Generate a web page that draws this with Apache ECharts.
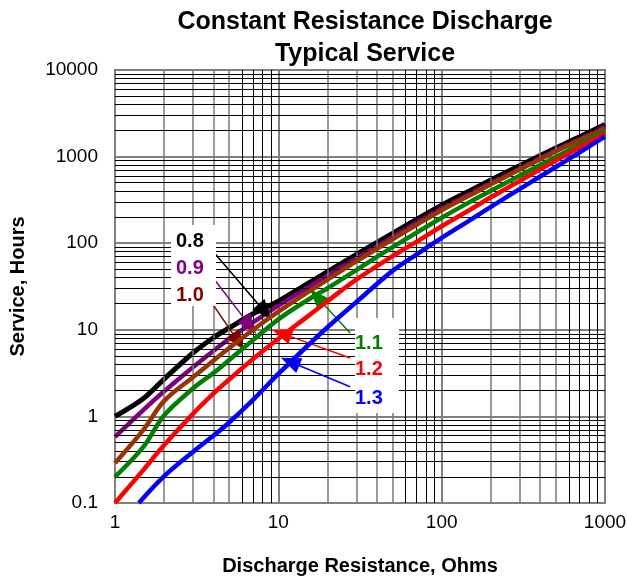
<!DOCTYPE html>
<html><head><meta charset="utf-8">
<script src="https://cdn.jsdelivr.net/npm/echarts@6/dist/echarts.min.js"></script>
<style>html,body{margin:0;padding:0;background:#fff}#c{width:627px;height:577px}</style>
</head><body><div id="c"></div>
<script>
// ---- data ----
const resistance = [1, 1.5, 2, 3, 4, 5, 7, 10, 15, 20, 30, 50, 70, 100, 150, 200, 300, 500, 700, 1000];
const service08 = [1.0, 1.62, 2.7, 5.4, 8.1, 10.5, 15.3, 21.4, 33.9, 46.8, 74, 130, 188, 275, 407, 537, 785, 1259, 1698, 2344];
const service09 = [0.58, 1.2, 1.95, 3.7, 5.7, 7.85, 12.2, 19, 30.5, 42.2, 66.8, 117.5, 172, 251, 376, 495, 724, 1180, 1592, 2228];
const service10 = [0.29, 0.71, 1.51, 2.84, 4.4, 6.15, 10, 16.2, 26.9, 38, 61.7, 111, 162, 240, 359, 479, 708, 1148, 1549, 2123];
const service11 = [0.20, 0.45, 1.03, 2.1, 3.16, 4.47, 7.6, 13.2, 21.9, 30.2, 49, 90, 132, 197, 302, 403, 603, 989, 1380, 1982];
const service12 = [0.10, 0.244, 0.467, 1.07, 1.83, 2.67, 4.6, 7.9, 14.1, 21.4, 38, 70.8, 103.5, 157, 245, 339, 522, 902, 1288, 1862];
const resistance13 = [1.4, 2, 3, 4, 5, 7, 10, 15, 20, 30, 50, 70, 100, 150, 200, 300, 500, 700, 1000];
const service13 = [0.10, 0.204, 0.389, 0.596, 0.851, 1.55, 3.09, 6.46, 10.7, 20.9, 47.9, 74, 115, 186, 263, 422, 759, 1122, 1698];
const seriesNames = ['0.8', '0.9', '1.0', '1.1', '1.2', '1.3'];
const xTickLabels = ['1', '10', '100', '1000'];
const yTickLabels = ['0.1', '1', '10', '100', '1000', '10000'];
// arrow annotations: [fromR, fromS, toR, toS]
const arrows = [
  [4.0, 79.8, 8.28, 16.1],
  [4.0, 39.3, 6.71, 11.1],
  [4.0, 19.3, 5.69, 7.3],
  [27.5, 9.2, 17.2, 24.1],
  [27.5, 4.72, 10.5, 9.1],
  [27.5, 2.2, 11.8, 4.28]
];

const F = '"Liberation Sans", Arial, sans-serif';
const lineColors = ['#000000', '#800080', '#993300', '#008000', '#ff0000', '#0000ff'];
const arrowColors = ['#000000', '#800080', '#800000', '#008000', '#ff0000', '#0000ff'];
const lineWidths = [5, 4.5, 4.5, 4.5, 4.5, 4.5];

const xs = [resistance, resistance, resistance, resistance, resistance, resistance13];
const ys = [service08, service09, service10, service11, service12, service13];

// minor log gridlines
const xMinor = [], yMinor = [];
[1, 10, 100].forEach(d => { for (let k = 2; k <= 9; k++) xMinor.push(k * d); });
[0.1, 1, 10, 100, 1000].forEach(d => { for (let k = 2; k <= 9; k++) yMinor.push(+(k * d).toPrecision(3)); });

const gridLines = [];
xMinor.forEach(v => {
  const k = Math.round(v / Math.pow(10, Math.floor(Math.log10(v) + 1e-9)));
  gridLines.push({ xAxis: v, lineStyle: { color: k <= 5 ? '#7a7a7a' : '#000', width: k <= 5 ? 1.5 : 1 } });
});
yMinor.forEach(v => {
  gridLines.push({ yAxis: v, lineStyle: { color: '#000', width: 1 } });
});

const series = [{
  type: 'line', data: [], silent: true, z: 1,
  markLine: { silent: true, symbol: ['none', 'none'], label: { show: false }, animation: false,
    lineStyle: { type: 'solid' }, emphasis: { disabled: true }, data: gridLines }
}];
seriesNames.forEach((n, i) => {
  const a = arrows[i];
  series.push({
    name: n, type: 'line', smooth: 0.35, showSymbol: false, symbol: 'none', z: 3 + i,
    lineStyle: { color: lineColors[i], width: lineWidths[i] },
    data: xs[i].map((x, j) => [x, ys[i][j]]),
    markLine: {
      silent: true, symbol: ['none', 'triangle'], symbolSize: [16, 20], label: { show: false }, animation: false,
      lineStyle: { color: arrowColors[i], width: 1.5, type: 'solid' }, emphasis: { disabled: true },
      data: [[{ coord: [a[0], a[1]] }, { coord: [a[2], a[3]] }]]
    }
  });
});

function fmt(v) { return String(+(+v).toPrecision(4)); }

const chart = echarts.init(document.getElementById('c'), null, { renderer: 'canvas' });
chart.setOption({
  animation: false,
  backgroundColor: '#fff',
  title: {
    text: 'Constant Resistance Discharge\nTypical Service', left: 360, top: 1, textAlign: 'center',
    textStyle: { fontFamily: F, fontWeight: 'bold', fontSize: 25, lineHeight: 32, color: '#000' }
  },
  grid: { left: 115, right: 22, top: 70, bottom: 74, show: true, borderColor: '#808080', borderWidth: 2,
    backgroundColor: '#fff', containLabel: false, outerBoundsMode: 'none' },
  xAxis: {
    type: 'log', logBase: 10, min: 1, max: 1000,
    name: 'Discharge Resistance, Ohms', nameLocation: 'middle', nameGap: 53,
    nameTextStyle: { fontFamily: F, fontWeight: 'bold', fontSize: 20, color: '#000' },
    axisLine: { show: false }, axisTick: { show: false },
    axisLabel: { fontFamily: F, fontSize: 19, color: '#000', margin: 10,
      formatter: v => { const s = fmt(v); return xTickLabels.includes(s) ? s : ''; } },
    splitLine: { show: true, lineStyle: { color: '#808080', width: 2 } }
  },
  yAxis: {
    type: 'log', logBase: 10, min: 0.1, max: 10000,
    name: 'Service, Hours', nameLocation: 'middle', nameGap: 87, nameRotate: 90,
    nameTextStyle: { fontFamily: F, fontWeight: 'bold', fontSize: 20, color: '#000' },
    axisLine: { show: false }, axisTick: { show: false },
    axisLabel: { fontFamily: F, fontSize: 19, color: '#000', margin: 17,
      formatter: v => { const s = fmt(v); return yTickLabels.includes(s) ? s : ''; } },
    splitLine: { show: true, lineStyle: { color: '#808080', width: 2 } }
  },
  graphic: [
    { type: 'rect', z: 50, shape: { x: 171, y: 225, width: 45, height: 81 }, style: { fill: '#fff' } },
    { type: 'text', z: 51, x: 176, y: 241, style: { text: '0.8', fill: '#000', font: 'bold 20px ' + F, verticalAlign: 'middle' } },
    { type: 'text', z: 51, x: 176, y: 268, style: { text: '0.9', fill: '#800080', font: 'bold 20px ' + F, verticalAlign: 'middle' } },
    { type: 'text', z: 51, x: 176, y: 295, style: { text: '1.0', fill: '#800000', font: 'bold 20px ' + F, verticalAlign: 'middle' } },
    { type: 'rect', z: 50, shape: { x: 355, y: 318, width: 44, height: 95 }, style: { fill: '#fff' } },
    { type: 'text', z: 51, x: 355, y: 343, style: { text: '1.1', fill: '#008000', font: 'bold 20px ' + F, verticalAlign: 'middle' } },
    { type: 'text', z: 51, x: 355, y: 369, style: { text: '1.2', fill: '#ff0000', font: 'bold 20px ' + F, verticalAlign: 'middle' } },
    { type: 'text', z: 51, x: 355, y: 398, style: { text: '1.3', fill: '#0000ff', font: 'bold 20px ' + F, verticalAlign: 'middle' } }
  ],
  series: series
});
</script></body></html>
